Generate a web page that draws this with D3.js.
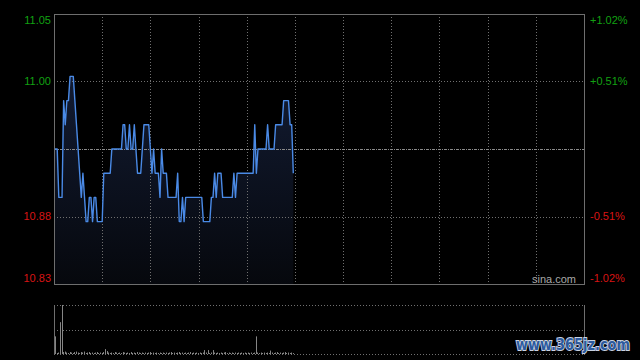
<!DOCTYPE html>
<html><head><meta charset="utf-8">
<script src="https://cdn.jsdelivr.net/npm/d3@7/dist/d3.min.js"></script>
<style>html,body{margin:0;padding:0;background:#000;}svg{display:block;}</style>
</head><body>
<svg id="c" width="640" height="360"></svg>
<script>
// ---- data ----
const prevClose = 10.94;
const pctRange = 0.0102;
const tickFractions = [1, 0.5, -0.5, -1];
const leftTickLabels = ["11.05", "11.00", "10.88", "10.83"];
const rightTickLabels = ["+1.02%", "+0.51%", "-0.51%", "-1.02%"];
const sessionMinutes = 330;
const timeGridMinutes = [30, 60, 90, 120, 150, 180, 210, 240, 270, 300];
const prices = [
  10.94,10.94,10.94,10.90,10.90,10.90,10.98,10.96,10.98,10.98,
  11.00,11.00,11.00,10.98,10.96,10.94,10.92,10.90,10.92,10.90,
  10.88,10.88,10.90,10.90,10.88,10.90,10.90,10.88,10.88,10.88,
  10.88,10.92,10.92,10.92,10.92,10.92,10.94,10.94,10.94,10.94,
  10.94,10.94,10.94,10.96,10.96,10.94,10.94,10.96,10.94,10.94,
  10.96,10.94,10.92,10.92,10.92,10.94,10.96,10.96,10.96,10.96,
  10.94,10.92,10.94,10.92,10.92,10.92,10.90,10.94,10.92,10.92,
  10.92,10.90,10.90,10.90,10.90,10.90,10.90,10.92,10.88,10.88,
  10.90,10.88,10.90,10.90,10.90,10.90,10.90,10.90,10.90,10.90,
  10.90,10.90,10.90,10.88,10.88,10.88,10.88,10.88,10.90,10.90,
  10.92,10.90,10.92,10.92,10.92,10.90,10.90,10.90,10.90,10.90,
  10.90,10.90,10.92,10.90,10.92,10.92,10.92,10.92,10.92,10.92,
  10.92,10.92,10.92,10.92,10.92,10.96,10.92,10.94,10.94,10.94,
  10.94,10.94,10.94,10.96,10.94,10.94,10.94,10.94,10.96,10.96,
  10.96,10.96,10.96,10.98,10.98,10.98,10.98,10.96,10.96,10.92
];
const volumes = [
  36,3,2,3,65,100,4,5,3,2, 4,3,2,4,5,3,2,4,3,5,
  2,3,4,2,3,2,3,4,2,3, 2,4,10,6,3,2,3,2,4,3,
  2,3,2,4,3,2,3,2,4,2, 3,2,4,3,2,3,2,3,2,3,
  4,2,3,2,3,2,3,2,3,2, 3,2,3,4,2,3,2,3,4,2,
  3,2,3,2,3,4,2,3,2,3, 2,3,2,3,8,3,8,2,3,8,
  3,2,3,2,3,2,3,4,2,3, 2,3,2,3,2,3,2,3,2,3,
  2,3,2,3,2,3,36,3,2,3, 2,3,2,3,2,7,3,2,3,4,
  2,3,2,3,4,2,3,2,3,2
];
const volumeMax = 100;

// ---- layout ----
const L = 54, R = 584, T = 14, B = 284, VT = 305, VB = 354;
const svg = d3.select("#c");
const x = d3.scaleLinear().domain([0, sessionMinutes]).range([L, R]);
const y = d3.scaleLinear().domain([prevClose * (1 - pctRange), prevClose * (1 + pctRange)]).range([B, T]);
const yv = d3.scaleLinear().domain([0, volumeMax]).range([VB, VT]);
const font = "'Liberation Sans', Arial, sans-serif";

const defs = svg.append("defs");
const grad = defs.append("linearGradient").attr("id", "g").attr("gradientUnits", "userSpaceOnUse")
  .attr("x1", 0).attr("x2", 0).attr("y1", T).attr("y2", B);
grad.append("stop").attr("offset", 0).attr("stop-color", "#16213d");
grad.append("stop").attr("offset", 1).attr("stop-color", "#06080d");

// area
svg.append("path").datum(prices)
  .attr("d", d3.area().x((d, i) => x(i)).y0(B).y1(d => y(d)))
  .attr("fill", "url(#g)");

// grid
const grid = svg.append("g");
timeGridMinutes.forEach(m => {
  const gx = Math.round(x(m)) + 0.5;
  grid.append("line").attr("x1", gx).attr("x2", gx).attr("y1", T).attr("y2", B)
    .attr("stroke", "#707070").attr("stroke-dasharray", "1,2");
});
[0.5, -0.5].forEach(f => {
  const gy = Math.round(y(prevClose * (1 + f * pctRange))) + 0.5;
  grid.append("line").attr("x1", L).attr("x2", R).attr("y1", gy).attr("y2", gy)
    .attr("stroke", "#707070").attr("stroke-dasharray", "1,2");
});
const my = Math.round(y(prevClose)) + 0.5;
grid.append("line").attr("x1", L).attr("x2", R).attr("y1", my).attr("y2", my)
  .attr("stroke", "#8a8a8a").attr("stroke-dasharray", "3,1,1,1");

// price line
svg.append("path").datum(prices)
  .attr("d", d3.line().x((d, i) => x(i)).y(d => y(d)))
  .attr("fill", "none").attr("stroke", "#4a8ae6").attr("stroke-width", 1.4)
  .attr("stroke-linejoin", "round");

// main border
svg.append("rect").attr("x", L + 0.5).attr("y", T + 0.5).attr("width", R - L).attr("height", B - T)
  .attr("fill", "none").attr("stroke", "#6e6e6e");

// labels
tickFractions.forEach((f, k) => {
  let ty = y(prevClose * (1 + f * pctRange));
  if (k === 0) ty += 6;
  if (k === tickFractions.length - 1) ty -= 6;
  const col = f > 0 ? "#12a012" : "#d81414";
  svg.append("text").attr("x", L - 3).attr("y", ty).attr("dy", "0.35em")
    .attr("text-anchor", "end").attr("font-family", font).attr("font-size", 11)
    .attr("fill", col).text(leftTickLabels[k]);
  svg.append("text").attr("x", R + 6).attr("y", ty).attr("dy", "0.35em")
    .attr("text-anchor", "start").attr("font-family", font).attr("font-size", 11)
    .attr("fill", col).text(rightTickLabels[k]);
});

svg.append("text").attr("x", 532).attr("y", 283).attr("font-family", font).attr("font-size", 11)
  .attr("fill", "#a8a8a8").text("sina.com");

// volume panel
const vg = svg.append("g");
[VT, (VT + VB) / 2, VB].forEach(v => {
  const gy = Math.round(v) + 0.5;
  vg.append("line").attr("x1", L).attr("x2", R).attr("y1", gy).attr("y2", gy)
    .attr("stroke", "#707070").attr("stroke-dasharray", "1,2");
});
[L, R].forEach(v => {
  vg.append("line").attr("x1", v + 0.5).attr("x2", v + 0.5).attr("y1", VT).attr("y2", VB + 1)
    .attr("stroke", "#6e6e6e");
});
vg.selectAll("rect.v").data(volumes).enter().append("rect")
  .attr("x", (d, i) => Math.max(L + 1, Math.floor(x(i))))
  .attr("width", 1)
  .attr("y", d => yv(d))
  .attr("height", d => VB - yv(d))
  .attr("fill", "#858585");

// watermark
svg.append("text").attr("x", 516).attr("y", 350)
  .attr("font-family", "'DejaVu Sans', sans-serif").attr("font-weight", "bold").attr("font-size", 16)
  .attr("textLength", 114).attr("lengthAdjust", "spacingAndGlyphs")
  .attr("fill", "#2c5a9e").attr("stroke", "#c8d2e2").attr("stroke-width", 2)
  .attr("paint-order", "stroke").text("www.365jz.com");
</script>
</body></html>
